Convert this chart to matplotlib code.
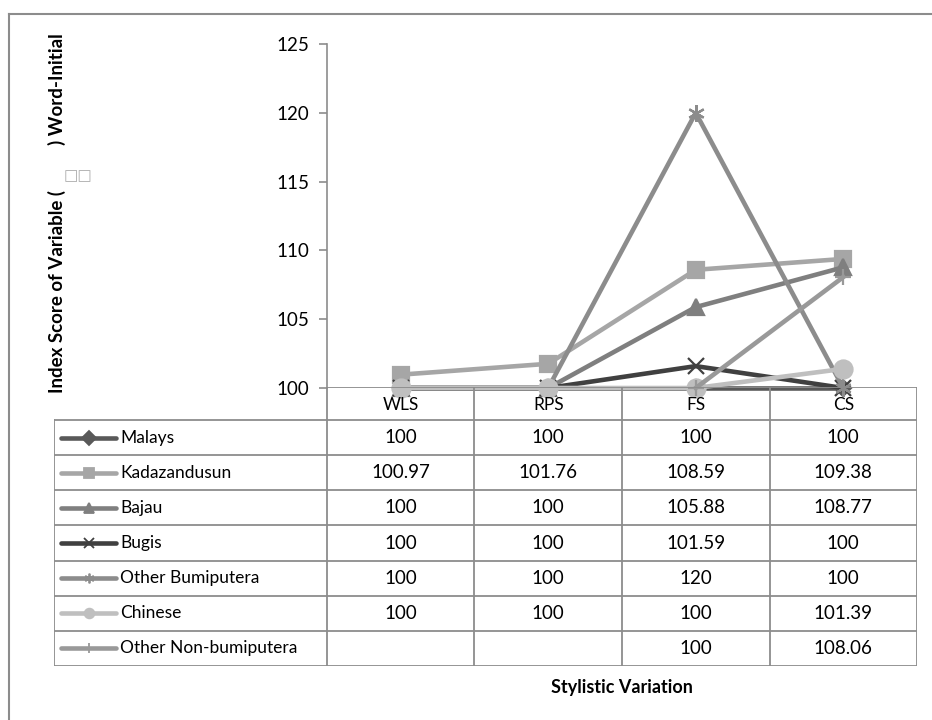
import matplotlib
matplotlib.use('Agg')
import matplotlib.pyplot as plt
import numpy as np
from matplotlib.lines import Line2D

categories = ['WLS', 'RPS', 'FS', 'CS']
series_names = ['Malays', 'Kadazandusun', 'Bajau', 'Bugis',
                'Other Bumiputera', 'Chinese', 'Other Non-bumiputera']
malays = [100, 100, 100, 100]
kadazandusun = [100.97, 101.76, 108.59, 109.38]
bajau = [100, 100, 105.88, 108.77]
bugis = [100, 100, 101.59, 100]
other_bumiputera = [100, 100, 120, 100]
chinese = [100, 100, 100, 101.39]
other_non_bumiputera = [np.nan, np.nan, 100, 108.06]
y_ticks = [100, 105, 110, 115, 120, 125]

values = [malays, kadazandusun, bajau, bugis, other_bumiputera, chinese, other_non_bumiputera]
colors = ['#595959', '#a6a6a6', '#7f7f7f', '#404040', '#8c8c8c', '#bfbfbf', '#999999']
markers = ['D', 's', '^', 'x', (6, 2, 0), 'o', '+']
marker_sizes = [8, 11, 11, 11, 12, 13, 11]

plt.rcParams['font.family'] = ['Lato', 'DejaVu Sans']
FS = 12.5       # words
FS_NUM = 13.5   # numbers
GRID = '#8c8c8c'

W, H = 932, 720
fig = plt.figure(figsize=(W / 100, H / 100), dpi=100)

# plot area in pixels
px_left, px_right, px_top, px_bottom = 327, 917, 44, 388
ax = fig.add_axes([px_left / W, 1 - px_bottom / H,
                   (px_right - px_left) / W, (px_bottom - px_top) / H])

x = np.arange(len(categories))
for name, vals, c, m, ms in zip(series_names, values, colors, markers, marker_sizes):
    ax.plot(x, vals, color=c, lw=3.3, marker=m, markersize=ms,
            markerfacecolor=c, markeredgecolor=c, markeredgewidth=1.6,
            clip_on=False, solid_joinstyle='round', label=name)

ax.set_xlim(-0.5, len(categories) - 0.5)
ax.set_ylim(100, 125)
ax.set_yticks(y_ticks)
ax.tick_params(axis='y', labelsize=FS_NUM, length=6, width=1.2, color=GRID, pad=7)
ax.set_xticks([])
for side in ['top', 'right', 'bottom']:
    ax.spines[side].set_visible(False)
ax.spines['left'].set_color(GRID)
ax.spines['left'].set_linewidth(1.2)

# data table below the plot
tab_left, tab_bottom, tab_top = 54, 666, 387
unit = (px_right - px_left) / len(categories)
x_min = -0.5 - (px_left - tab_left) / unit
header_h = 33 / 35
n_rows = len(series_names)
tab = fig.add_axes([tab_left / W, 1 - tab_bottom / H,
                    (px_right - tab_left) / W, (tab_bottom - tab_top) / H])
tab.set_xlim(x_min, len(categories) - 0.5)
tab.set_ylim(n_rows, -header_h)
tab.axis('off')

lk = dict(color=GRID, lw=1.3, solid_capstyle='projecting')
# horizontal lines
tab.plot([-0.5, len(categories) - 0.5], [-header_h, -header_h], **lk)
for r in range(n_rows + 1):
    tab.plot([x_min, len(categories) - 0.5], [r, r], **lk)
# vertical lines
for cidx in range(len(categories) + 1):
    tab.plot([cidx - 0.5, cidx - 0.5], [-header_h, n_rows], **lk)
tab.plot([x_min, x_min], [0, n_rows], **lk)

for cidx, cat in enumerate(categories):
    tab.text(cidx, -header_h / 2 + 0.05, cat, ha='center', va='center', fontsize=FS)

key_x0 = x_min + 7 / unit
key_x1 = x_min + 62 / unit
for r, (name, vals, c, m) in enumerate(zip(series_names, values, colors, markers)):
    yc = r + 0.5
    tab.plot([key_x0, key_x1], [yc, yc], color=c, lw=3.3, solid_capstyle='round')
    tab.plot([(key_x0 + key_x1) / 2], [yc], marker=m, color=c, markersize=7,
             markeredgewidth=1.3, linestyle='none')
    tab.text(key_x1 + 4 / unit, yc, name, ha='left', va='center', fontsize=FS)
    for cidx, v in enumerate(vals):
        if not np.isnan(v):
            tab.text(cidx, yc, '{:g}'.format(v), ha='center', va='center', fontsize=FS_NUM)

# axis titles
fig.text(57 / W, 1 - 213 / H, 'Index Score of Variable (          ) Word-Initial',
         rotation=90, ha='center', va='center', fontsize=13.5, fontweight='bold')
fig.text(78 / W, 1 - 176 / H, '\u25a1\u25a1', ha='center', va='center',
         fontsize=11, color='#aaaaaa', family=['DejaVu Sans'])
fig.text(622 / W, 1 - 688 / H, 'Stylistic Variation', ha='center', va='center',
         fontsize=13, fontweight='bold')

# chart frame
fig.add_artist(Line2D([9 / W, 1], [1 - 14 / H, 1 - 14 / H], transform=fig.transFigure,
                      color=GRID, lw=1.5))
fig.add_artist(Line2D([9 / W, 9 / W], [1 - 14 / H, 0], transform=fig.transFigure,
                      color=GRID, lw=1.5))

fig.savefig('out.png', dpi=100)
